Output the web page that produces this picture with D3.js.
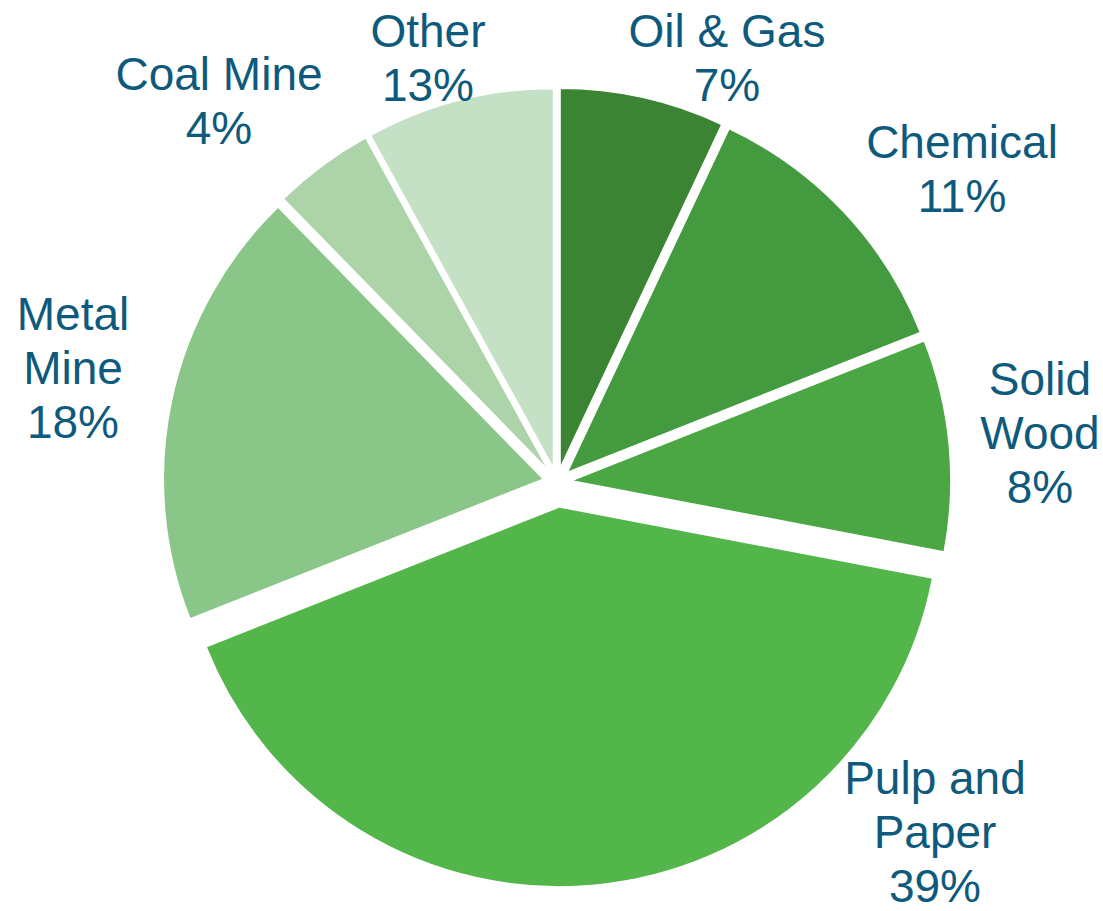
<!DOCTYPE html>
<html>
<head>
<meta charset="utf-8">
<script src="https://cdn.jsdelivr.net/npm/d3@7"></script>
<style>
  body { margin: 0; background: #fff; }
  svg { display: block; }
</style>
</head>
<body>
<div id="chart"></div>
<script>
// slice sizes (degrees -> %), plus the printed labels
const categories = ["Oil & Gas", "Chemical", "Solid Wood", "Pulp and Paper", "Metal Mine", "Coal Mine", "Other"];
const sliceValues = [7, 12, 9, 41, 18.7, 4.3, 8];
const pctLabels = ["7%", "11%", "8%", "39%", "18%", "4%", "13%"];
const labelLines = [["Oil & Gas"], ["Chemical"], ["Solid", "Wood"], ["Pulp and", "Paper"], ["Metal", "Mine"], ["Coal Mine"], ["Other"]];
const colors = ["#3a8434", "#449a3e", "#4ba744", "#53b64a", "#89c687", "#acd4a8", "#c5e1c5"];

(() => {
    const width = 1103, height = 911;
    const cx = 557, cy = 482;
    const radius = 380;
    const explode = 14;
    const bigExplode = 25; // Pulp and Paper sits further out

    // label anchor (centre x, first baseline y) for each slice
    const labelAnchor = {
        "Oil & Gas": [727, 47],
        "Chemical": [962, 158],
        "Solid Wood": [1040, 395],
        "Pulp and Paper": [935, 794],
        "Metal Mine": [73, 330],
        "Coal Mine": [219, 90],
        "Other": [428, 47]
    };
    const lineHeight = 54;

    const svg = d3.select("#chart")
        .append("svg")
        .attr("width", width)
        .attr("height", height);

    const data = categories.map((c, i) => ({ name: c, value: sliceValues[i], pct: pctLabels[i], lines: labelLines[i], color: colors[i] }));

    const pie = d3.pie()
        .sort(null)
        .value(d => d.value);

    const arc = d3.arc()
        .innerRadius(0)
        .outerRadius(radius);

    const g = svg.append("g")
        .attr("transform", `translate(${cx},${cy})`);

    g.selectAll("path")
        .data(pie(data))
        .enter().append("path")
        .attr("d", arc)
        .attr("fill", d => d.data.color)
        .attr("stroke", "#fff")
        .attr("stroke-width", 1.5)
        .attr("transform", d => {
            const mid = (d.startAngle + d.endAngle) / 2;
            const off = d.data.name === "Pulp and Paper" ? bigExplode : explode;
            return `translate(${Math.sin(mid) * off},${-Math.cos(mid) * off})`;
        });

    // Labels
    const labels = svg.append("g")
        .attr("font-family", "'Liberation Sans', Arial, sans-serif")
        .attr("font-size", "46px")
        .attr("fill", "#0e5a7c")
        .attr("text-anchor", "middle");

    data.forEach(d => {
        const [x, y] = labelAnchor[d.name];
        const t = labels.append("text")
            .attr("x", x)
            .attr("y", y);
        d.lines.concat([d.pct]).forEach((line, i) => {
            t.append("tspan")
                .attr("x", x)
                .attr("y", y + i * lineHeight)
                .text(line);
        });
    });
})();
</script>
</body>
</html>
